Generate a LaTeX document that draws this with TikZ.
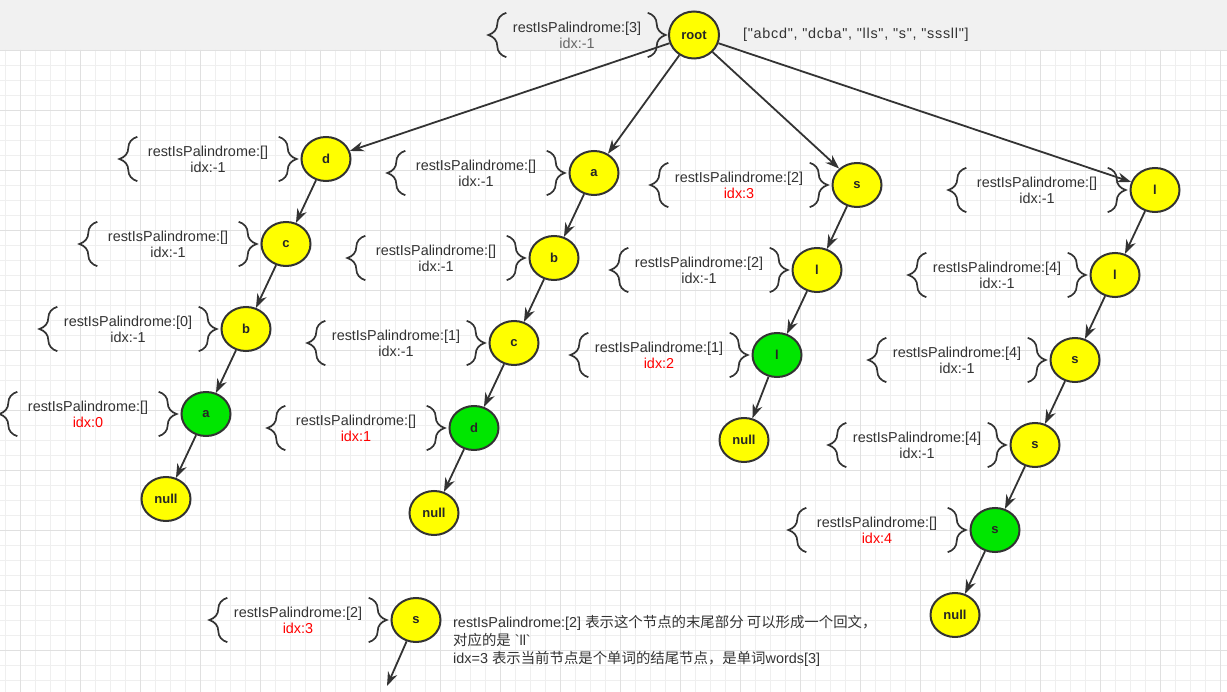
\documentclass[tikz,border=0pt]{standalone}
\usepackage{fontspec}
\setmainfont{Liberation Sans}
\newfontfamily\plain{Liberation Sans}
\newfontfamily\cjk{Noto Sans CJK SC}
\usetikzlibrary{positioning,shapes.geometric,arrows.meta,decorations.pathreplacing}
\definecolor{ink}{HTML}{333333}
\definecolor{idxgray}{HTML}{666666}
\definecolor{idxred}{HTML}{FF0000}
\definecolor{nodeyel}{HTML}{FFFF00}
\definecolor{nodegrn}{HTML}{00E600}
\definecolor{strip}{HTML}{F1F1F1}
\definecolor{gridminor}{HTML}{EFEFEF}
\definecolor{gridmajor}{HTML}{E0E0E0}
\tikzset{sub/.style={on grid,below left=85pt and 40pt of #1}}
\newcommand{\red}[1]{\textcolor{idxred}{#1}}
\begin{document}
\begin{tikzpicture}[x=1pt,y=-1pt,font=\fontsize{14.4}{16}\selectfont]
  \tikzstyle{yn}=[ellipse,draw=ink,line width=2,fill=nodeyel,minimum width=49,minimum height=44,inner sep=0,font=\fontsize{13}{13}\selectfont\bfseries,text=black!85]
  \tikzstyle{gn}=[yn,fill=nodegrn]
  \tikzstyle{info}=[on grid,minimum width=141,minimum height=44,inner sep=0,align=center,text=ink]
  \tikzstyle{brc}=[draw=ink,line width=1.7,decorate,decoration={brace,amplitude=18pt}]
  \tikzstyle{arr}=[draw=ink,line width=1.8,-{Stealth[length=14pt,width=10pt]}]

  \useasboundingbox (0,0) rectangle (1227,692);
  % background
  \fill[strip] (0,0) rectangle (1227,50);
  \foreach \gx in {5,20,...,1220} \draw[gridminor] (\gx,50) -- (\gx,692);
  \foreach \gy in {65,80,...,680} \draw[gridminor] (0,\gy) -- (1227,\gy);
  \foreach \gx in {20,80,...,1220} \draw[gridmajor] (\gx,50) -- (\gx,692);
  \foreach \gy in {50,110,...,650} \draw[gridmajor] (0,\gy) -- (1227,\gy);

  % root
  \node[yn,minimum width=50,minimum height=47] (root) at (694,35) {root};
  \node[info,left=117pt of root] (iroot) {restIsPalindrome:[3]\\\textcolor{idxgray}{idx:-1}};
  \node[right=23pt of root,inner sep=0,text=ink] (words) {\plain\addfontfeatures{LetterSpace=5}["abcd", "dcba", "lls", "s", "sssll"]};

  % dcba
  \node[yn,on grid,below left=124pt and 368pt of root] (d1) {d};
  \node[yn,sub=d1] (c1) {c};
  \node[yn,sub=c1] (b1) {b};
  \node[gn,sub=b1] (a1) {a};
  \node[yn,sub=a1] (n1) {null};
  \node[info,left=118pt of d1] (id1) {restIsPalindrome:[]\\idx:-1};
  \node[info,left=118pt of c1] (ic1) {restIsPalindrome:[]\\idx:-1};
  \node[info,left=118pt of b1] (ib1) {restIsPalindrome:[0]\\idx:-1};
  \node[info,left=118pt of a1] (ia1) {restIsPalindrome:[]\\\red{idx:0}};

  % abcd
  \node[yn,on grid,below left=138pt and 100pt of root] (a2) {a};
  \node[yn,sub=a2] (b2) {b};
  \node[yn,sub=b2] (c2) {c};
  \node[gn,sub=c2] (d2) {d};
  \node[yn,sub=d2] (n2) {null};
  \node[info,left=118pt of a2] (ia2) {restIsPalindrome:[]\\idx:-1};
  \node[info,left=118pt of b2] (ib2) {restIsPalindrome:[]\\idx:-1};
  \node[info,left=118pt of c2] (ic2) {restIsPalindrome:[1]\\idx:-1};
  \node[info,left=118pt of d2] (id2) {restIsPalindrome:[]\\\red{idx:1}};

  % sll
  \node[yn,on grid,below right=150pt and 163pt of root] (s3) {s};
  \node[yn,sub=s3] (l3) {l};
  \node[gn,sub=l3] (m3) {l};
  \node[yn,on grid,below left=85pt and 33pt of m3] (n3) {null};
  \node[info,left=118pt of s3] (is3) {restIsPalindrome:[2]\\\red{idx:3}};
  \node[info,left=118pt of l3] (il3) {restIsPalindrome:[2]\\idx:-1};
  \node[info,left=118pt of m3] (im3) {restIsPalindrome:[1]\\\red{idx:2}};

  % llsss
  \node[yn,on grid,below right=155pt and 461pt of root] (l4) {l};
  \node[yn,sub=l4] (m4) {l};
  \node[yn,sub=m4] (s4) {s};
  \node[yn,sub=s4] (t4) {s};
  \node[gn,sub=t4] (u4) {s};
  \node[yn,sub=u4] (n4) {null};
  \node[info,left=118pt of l4] (il4) {restIsPalindrome:[]\\idx:-1};
  \node[info,left=118pt of m4] (im4) {restIsPalindrome:[4]\\idx:-1};
  \node[info,left=118pt of s4] (is4) {restIsPalindrome:[4]\\idx:-1};
  \node[info,left=118pt of t4] (it4) {restIsPalindrome:[4]\\idx:-1};
  \node[info,left=118pt of u4] (iu4) {restIsPalindrome:[]\\\red{idx:4}};

  % legend
  \node[yn] (s0) at (416,620) {s};
  \node[info,left=118pt of s0] (is0) {restIsPalindrome:[2]\\\red{idx:3}};
  \coordinate (tail) at (387,686);
  \node[anchor=north west,inner sep=0,align=left,text=ink,font=\fontsize{14.4}{18}\selectfont] (note) at (453,615)
    {restIsPalindrome:[2] {\cjk 表示这个节点的末尾部分 可以形成一个回文，}\\
     {\cjk 对应的是} \textasciigrave ll\textasciigrave\\
     idx=3 {\cjk 表示当前节点是个单词的结尾节点，是单词}words[3]};

  % braces
  \foreach \n in {iroot,id1,ic1,ib1,ia1,ia2,ib2,ic2,id2,is3,il3,im3,il4,im4,is4,it4,iu4,is0} {
    \draw[brc] (\n.south west) -- (\n.north west);
    \draw[brc] (\n.north east) -- (\n.south east);
  }

  % edges
  \draw[arr] (root) -- (d1);
  \draw[arr] (root) -- (a2);
  \draw[arr] (root) -- (s3);
  \draw[arr] (root) -- (l4);
  \draw[arr] (d1) -- (c1);
  \draw[arr] (c1) -- (b1);
  \draw[arr] (b1) -- (a1);
  \draw[arr] (a1) -- (n1);
  \draw[arr] (a2) -- (b2);
  \draw[arr] (b2) -- (c2);
  \draw[arr] (c2) -- (d2);
  \draw[arr] (d2) -- (n2);
  \draw[arr] (s3) -- (l3);
  \draw[arr] (l3) -- (m3);
  \draw[arr] (m3) -- (n3);
  \draw[arr] (l4) -- (m4);
  \draw[arr] (m4) -- (s4);
  \draw[arr] (s4) -- (t4);
  \draw[arr] (t4) -- (u4);
  \draw[arr] (u4) -- (n4);
  \draw[arr] (s0) -- (tail);
\end{tikzpicture}
\end{document}
